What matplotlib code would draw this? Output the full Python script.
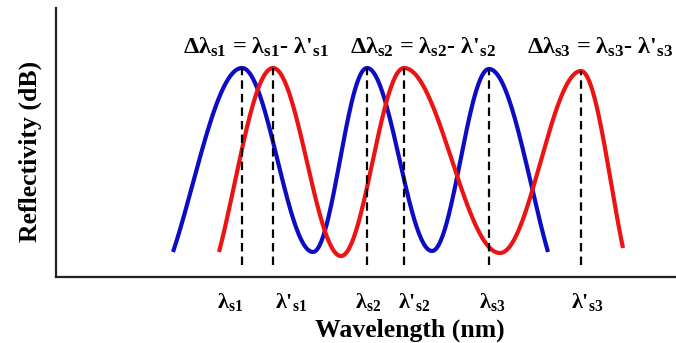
import matplotlib
matplotlib.use('Agg')

import matplotlib.pyplot as plt
import numpy as np

# keypoints of the two reflection spectra (arbitrary wavelength / reflectivity units)
# ends, peaks and troughs
blue_x = [11.7, 18.6, 25.7, 31.1, 37.6, 43.3, 49.2]
blue_y = [2.5, 20.9, 2.5, 20.9, 2.6, 20.8, 2.5]
red_x = [16.3, 21.7, 28.5, 34.8, 44.4, 52.5, 56.7]
red_y = [2.5, 20.9, 2.1, 20.9, 2.4, 20.6, 2.9]

# peak wavelengths marked with dashed lines and their labels
peak_labels = ["λ$_{s1}$", "λ'$_{s1}$", "λ$_{s2}$", "λ'$_{s2}$", "λ$_{s3}$", "λ'$_{s3}$"]
label_x = [17.4, 23.5, 31.2, 35.8, 43.6, 53.1]
shift_labels = ["Δλ$_{s1}$ = λ$_{s1}$- λ'$_{s1}$",
                "Δλ$_{s2}$ = λ$_{s2}$- λ'$_{s2}$",
                "Δλ$_{s3}$ = λ$_{s3}$- λ'$_{s3}$"]
shift_x = [20.0, 36.7, 54.4]

plt.rcParams['font.family'] = 'Liberation Serif'
plt.rcParams['font.weight'] = 'bold'
plt.rcParams['axes.labelweight'] = 'bold'
plt.rcParams['mathtext.fontset'] = 'custom'
plt.rcParams['mathtext.rm'] = 'Liberation Serif:bold'
plt.rcParams['mathtext.it'] = 'Liberation Serif:bold'
plt.rcParams['mathtext.bf'] = 'Liberation Serif:bold'


def segment(x0, y0, x1, y1, p0=0.0, p1=np.pi, n=60):
    """Cosine shaped piece between two keypoints."""
    ph = np.linspace(p0, p1, n)
    t = (np.cos(p0) - np.cos(ph)) / (np.cos(p0) - np.cos(p1))
    return np.linspace(x0, x1, n), y0 + (y1 - y0) * t


def spectrum(xs, ys):
    px, py = [], []
    last = len(xs) - 2
    for i in range(len(xs) - 1):
        p0 = 0.3 * np.pi if i == 0 else 0.0
        p1 = 0.7 * np.pi if i == last else np.pi
        sx, sy = segment(xs[i], ys[i], xs[i + 1], ys[i + 1], p0, p1)
        px.extend(sx)
        py.extend(sy)
    return np.array(px), np.array(py)


fig = plt.figure(figsize=(6.76, 3.43), dpi=100)
ax = fig.add_axes([56 / 676, 66 / 343, 620 / 676, 269 / 343])

bx, by = spectrum(blue_x, blue_y)
rx, ry = spectrum(red_x, red_y)
ax.plot(bx, by, color='#0c0cc4', lw=3, solid_capstyle='butt')
ax.plot(rx, ry, color='#ec1313', lw=3, solid_capstyle='butt')

peaks_x = [blue_x[1], red_x[1], blue_x[3], red_x[3], blue_x[5], red_x[5]]
peaks_y = [blue_y[1], red_y[1], blue_y[3], red_y[3], blue_y[5], red_y[5]]
ax.vlines(peaks_x, 1.2, peaks_y, colors='black', lw=1.6,
          linestyles=(0, (3.8, 2.3)), zorder=5)

for lx, lab in zip(label_x, peak_labels):
    ax.text(lx, -2.5, lab, ha='center', va='center', fontsize=16)

for sx, lab in zip(shift_x, shift_labels):
    ax.text(sx, 23.0, lab, ha='center', va='center', fontsize=17.5)

ax.set_xlim(0, 62)
ax.set_ylim(0, 26.9)
ax.set_xticks([])
ax.set_yticks([])
for side in ('top', 'right'):
    ax.spines[side].set_visible(False)
for side in ('left', 'bottom'):
    ax.spines[side].set_linewidth(1.6)
    ax.spines[side].set_color('#222222')

ax.set_xlabel('Wavelength (nm)', fontsize=18.5)
ax.xaxis.set_label_coords(0.571, -0.155)
ax.set_ylabel('Reflectivity (dB)', fontsize=18.5)
ax.yaxis.set_label_coords(-0.022, 0.465)

fig.savefig('out.png', dpi=100)
